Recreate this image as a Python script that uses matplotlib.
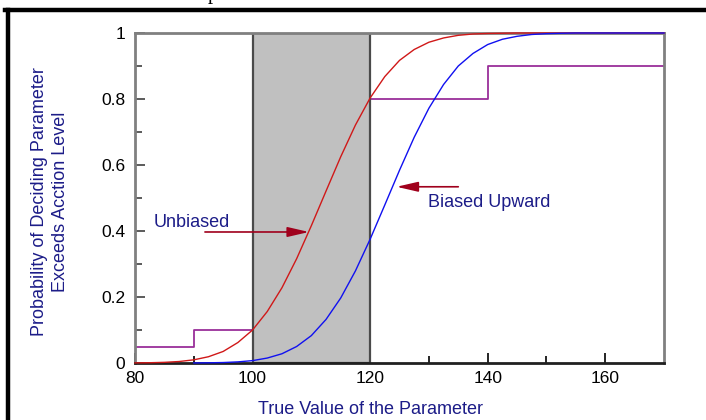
import matplotlib
matplotlib.use("Agg")
import matplotlib.pyplot as plt
from matplotlib.lines import Line2D

plt.rcParams['font.family'] = ['Liberation Sans', 'DejaVu Sans']

# true parameter value and probability of deciding it exceeds the action level
x_unbiased = [80, 82.5, 85, 87.5, 90, 92.5, 95, 97.5, 100, 102.5, 105, 107.5, 110,
              112.5, 115, 117.5, 120, 122.5, 125, 127.5, 130, 132.5, 135, 137.5,
              140, 145, 170]
p_unbiased = [0.0003, 0.0008, 0.002, 0.0045, 0.0096, 0.019, 0.035, 0.062, 0.100,
              0.156, 0.228, 0.316, 0.416, 0.521, 0.625, 0.721, 0.803, 0.868, 0.917,
              0.950, 0.972, 0.985, 0.993, 0.997, 0.9986, 1.0, 1.0]

x_biased = [90, 92.5, 95, 97.5, 100, 102.5, 105, 107.5, 110, 112.5, 115, 117.5,
            120, 122.5, 125, 127.5, 130, 132.5, 135, 137.5, 140, 142.5, 145, 147.5,
            150, 152.5, 155, 170]
p_biased = [0.0002, 0.0006, 0.0014, 0.0034, 0.0072, 0.015, 0.028, 0.050, 0.083,
            0.132, 0.197, 0.279, 0.375, 0.479, 0.584, 0.684, 0.772, 0.844, 0.900,
            0.938, 0.965, 0.981, 0.990, 0.9955, 0.998, 0.9992, 1.0, 1.0]

# decision performance goals (below / above the gray region)
goal_low_x = [80, 90, 100]
goal_low_p = [0.05, 0.1, 0.1]
goal_high_x = [120, 140, 170]
goal_high_p = [0.8, 0.9, 0.9]

gray_region = [100, 120]

xticks = [80, 100, 120, 140, 160]
yticks = [0, 0.2, 0.4, 0.6, 0.8, 1]
ytick_labels = ['0', '0.2', '0.4', '0.6', '0.8', '1']

navy = '#1c1c88'
arrow_red = '#a0001c'

fig = plt.figure(figsize=(7.06, 4.20), dpi=100)
ax = fig.add_axes([135 / 706, 1 - 363 / 420, 529 / 706, 330 / 420])

ax.step(goal_low_x, goal_low_p, where='post', color='#9a2f9a', lw=1.3, zorder=1)
ax.step(goal_high_x, goal_high_p, where='post', color='#9a2f9a', lw=1.3, zorder=1)

ax.axvspan(gray_region[0], gray_region[1], facecolor='#c0c0c0',
           edgecolor='#4a4a4a', lw=1.6, zorder=2)

ax.plot(x_unbiased, p_unbiased, color='#d01818', lw=1.0, zorder=3, clip_on=False)
ax.plot(x_biased, p_biased, color='#1010f0', lw=1.0, zorder=4, clip_on=False)

arrow_kw = dict(arrowstyle='-|>,head_length=1.3,head_width=0.3', color=arrow_red,
                lw=1.2, mutation_scale=10, shrinkA=0, shrinkB=0)
ax.annotate('', xy=(109.6, 0.397), xytext=(91.9, 0.397), arrowprops=arrow_kw, zorder=5)
ax.annotate('', xy=(124.5, 0.534), xytext=(135.0, 0.534), arrowprops=arrow_kw, zorder=5)
ax.text(89.7, 0.427, 'Unbiased', color=navy, fontsize=13, ha='center', va='center')
ax.text(140.2, 0.485, 'Biased Upward', color=navy, fontsize=13, ha='center', va='center')

ax.set_xlim(80, 170)
ax.set_ylim(0, 1)
ax.set_xticks(xticks)
ax.set_xticks([90, 110, 130, 150], minor=True)
ax.set_yticks(yticks)
ax.set_yticklabels(ytick_labels)
ax.set_yticks([0.1, 0.3, 0.5, 0.7, 0.9], minor=True)
ax.tick_params(which='both', direction='in', labelsize=12.5)
ax.tick_params(axis='y', which='major', length=7, width=1.2, color='#404040', pad=7)
ax.tick_params(axis='y', which='minor', length=5, width=1.2, color='#404040')
ax.tick_params(axis='x', which='major', length=7, width=1.2, color='black', pad=6)
ax.tick_params(axis='x', which='minor', length=5, width=1.2, color='black')

for side in ['left', 'right', 'top']:
    ax.spines[side].set_color('#808080')
    ax.spines[side].set_linewidth(2)
ax.spines['bottom'].set_color('#202020')
ax.spines['bottom'].set_linewidth(2)

fig.text(50 / 706, 1 - 202 / 420,
         'Probability of Deciding Parameter\nExceeds Acction Level',
         rotation=90, ha='center', va='center', multialignment='center',
         color=navy, fontsize=13, linespacing=1.3)
fig.text(371 / 706, 1 - 410 / 420, 'True Value of the Parameter',
         ha='center', va='center', color=navy, fontsize=13)

# page frame and the caption line above it
fig.add_artist(Line2D([5 / 706, 1], [1 - 10 / 420] * 2, color='black', lw=3.2))
fig.add_artist(Line2D([8 / 706] * 2, [0, 1 - 10 / 420], color='black', lw=3.2))
fig.text(213 / 706, 1 + 1 / 420, 'p', family='Liberation Serif', fontsize=15,
         ha='center', va='baseline')

fig.savefig('out.png', dpi=100)
